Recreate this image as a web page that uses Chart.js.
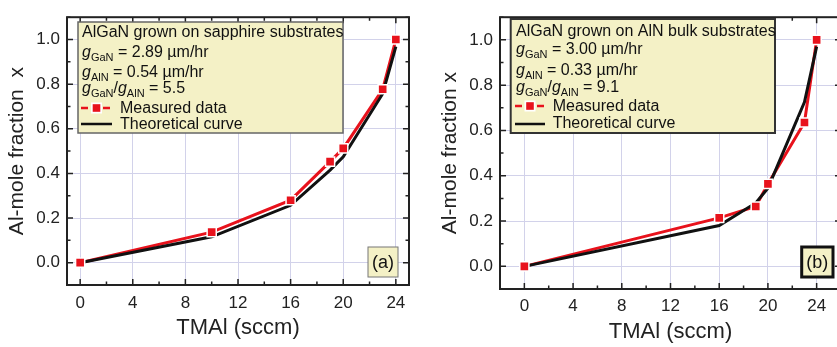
<!DOCTYPE html>
<html>
<head>
    <meta charset="utf-8" />
    <title>Al-mole fraction vs TMAl</title>
    <script src="https://cdn.jsdelivr.net/npm/chart.js"></script>
    <style>
        body { margin: 0; overflow: hidden; background: #fff; width: 837px; height: 347px; position: relative; }
        canvas { position: absolute; top: 0; }
    </style>
</head>
<body>
    <canvas id="chartA" width="420" height="347" style="left:0px"></canvas>
    <canvas id="chartB" width="430" height="347" style="left:420px"></canvas>

    <script>
        // values
        const tmalA = [0, 10, 16, 19, 20, 23, 24];
        const measuredA = [0, 0.137, 0.28, 0.453, 0.512, 0.777, 1.0];
        const theoryA = [0, 0.116, 0.257, 0.415, 0.474, 0.757, 0.968];

        const tmalB = [0, 16, 19, 20, 23, 24];
        const measuredB = [0, 0.214, 0.264, 0.364, 0.635, 1.0];
        const theoryB = [0, 0.18, 0.28, 0.345, 0.725, 0.97];

        const xTicks = [0, 4, 8, 12, 16, 20, 24];
        const yTicks = [0, 0.2, 0.4, 0.6, 0.8, 1.0];

        const RED = '#e8121c';
        const BOXFILL = '#f4f1c6';
        const FONT = '"Liberation Sans", Arial, sans-serif';

        Chart.defaults.font.family = FONT;
        Chart.defaults.color = '#222';

        function pts(xs, ys) {
            return xs.map((x, i) => ({ x: x, y: ys[i] }));
        }

        // text with italic / subscript pieces
        function drawRich(ctx, parts, x, y) {
            for (const p of parts) {
                const size = p.sub ? 11 : 16;
                ctx.font = (p.it ? 'italic ' : '') + size + 'px ' + FONT;
                ctx.fillText(p.t, x, y + (p.sub ? 4 : 0));
                x += ctx.measureText(p.t).width;
            }
        }

        const decor = {
            id: 'decor',
            afterDatasetsDraw(chart, args, o) {
                const ctx = chart.ctx;
                const a = chart.chartArea;
                const sx = chart.scales.x, sy = chart.scales.y;
                ctx.save();

                // ticks pointing inward, all four sides
                ctx.strokeStyle = '#222';
                ctx.lineWidth = 1.5;
                ctx.beginPath();
                for (let v = Math.ceil(sx.min / 2) * 2; v <= sx.max; v += 2) {
                    const px = sx.getPixelForValue(v);
                    const len = (v % 4 === 0) ? 6 : 3.5;
                    ctx.moveTo(px, a.bottom); ctx.lineTo(px, a.bottom - len);
                    ctx.moveTo(px, a.top); ctx.lineTo(px, a.top + len);
                }
                for (let k = Math.ceil(sy.min * 10); k <= Math.floor(sy.max * 10); k++) {
                    const py = sy.getPixelForValue(k / 10);
                    const len = (k % 2 === 0) ? 6 : 3.5;
                    ctx.moveTo(a.left, py); ctx.lineTo(a.left + len, py);
                    ctx.moveTo(a.right, py); ctx.lineTo(a.right - len, py);
                }
                ctx.stroke();

                ctx.lineWidth = 2;
                ctx.strokeRect(a.left, a.top, a.right - a.left, a.bottom - a.top);

                // info box
                const b = o.box;
                ctx.fillStyle = BOXFILL;
                ctx.fillRect(b.x, b.y, b.w, b.h);
                ctx.strokeStyle = b.stroke;
                ctx.lineWidth = b.lw;
                ctx.strokeRect(b.x, b.y, b.w, b.h);

                ctx.fillStyle = '#111';
                ctx.textAlign = 'left';
                ctx.textBaseline = 'alphabetic';
                o.lines.forEach((ln, i) => drawRich(ctx, ln, o.tx, o.base[i]));

                // legend entries
                const L = o.legend;
                ctx.strokeStyle = RED;
                ctx.lineWidth = 2.5;
                ctx.setLineDash([7, 4]);
                ctx.beginPath();
                ctx.moveTo(L.x0, L.yRed); ctx.lineTo(L.x1, L.yRed);
                ctx.stroke();
                ctx.setLineDash([]);
                const mx = (L.x0 + L.x1) / 2;
                ctx.fillStyle = '#fff';
                ctx.fillRect(mx - 5.5, L.yRed - 5.5, 11, 11);
                ctx.fillStyle = RED;
                ctx.fillRect(mx - 3.8, L.yRed - 3.8, 7.6, 7.6);
                ctx.strokeStyle = '#111';
                ctx.lineWidth = 2.5;
                ctx.beginPath();
                ctx.moveTo(L.x0, L.yBlack); ctx.lineTo(L.x1, L.yBlack);
                ctx.stroke();
                ctx.fillStyle = '#111';
                drawRich(ctx, [{ t: 'Measured data' }], L.tx, L.bRed);
                drawRich(ctx, [{ t: 'Theoretical curve' }], L.tx, L.bBlack);

                // panel tag
                const t = o.tag;
                ctx.fillStyle = BOXFILL;
                ctx.fillRect(t.x, t.y, t.w, t.h);
                ctx.strokeStyle = t.stroke;
                ctx.lineWidth = t.lw;
                ctx.strokeRect(t.x, t.y, t.w, t.h);
                ctx.fillStyle = '#111';
                ctx.font = '18px ' + FONT;
                ctx.textAlign = 'center';
                ctx.textBaseline = 'middle';
                ctx.fillText(t.text, t.x + t.w / 2, t.y + t.h / 2 + 1);

                ctx.restore();
            }
        };

        function makeChart(id, xs, meas, theo, s) {
            return new Chart(document.getElementById(id), {
                type: 'scatter',
                data: {
                    datasets: [
                        { data: pts(xs, meas), showLine: true, borderColor: RED, borderWidth: 3, pointRadius: 0, order: 4 },
                        { data: pts(xs, theo), showLine: true, borderColor: '#111', borderWidth: 3, pointRadius: 0, order: 3 },
                        { data: pts(xs, meas), pointStyle: 'rect', pointRadius: 7.5, backgroundColor: '#fff', pointBorderWidth: 0, order: 2 },
                        { data: pts(xs, meas), pointStyle: 'rect', pointRadius: 5.4, backgroundColor: RED, pointBorderWidth: 0, order: 1 }
                    ]
                },
                options: {
                    responsive: false,
                    animation: false,
                    layout: { padding: s.pad },
                    plugins: { legend: { display: false }, tooltip: { enabled: false }, decor: s.decor },
                    scales: {
                        x: {
                            type: 'linear', min: s.xmin, max: s.xmax,
                            afterBuildTicks: sc => { sc.ticks = xTicks.map(v => ({ value: v })); },
                            afterFit: sc => { sc.height = s.xh; },
                            ticks: { font: { size: 17 }, padding: s.xtp, maxRotation: 0 },
                            grid: { color: '#d2d2ea', lineWidth: 1, drawTicks: false },
                            border: { display: false },
                            title: { display: true, text: 'TMAl (sccm)', font: { size: 22 }, color: '#222', padding: { bottom: s.xtb, top: 0 } }
                        },
                        y: {
                            type: 'linear', min: -0.1, max: 1.1,
                            afterBuildTicks: sc => { sc.ticks = yTicks.map(v => ({ value: v })); },
                            afterFit: sc => { sc.width = s.yw; },
                            ticks: { font: { size: 17 }, padding: 7, callback: v => v.toFixed(1) },
                            grid: { color: '#d2d2ea', lineWidth: 1, drawTicks: false },
                            border: { display: false },
                            title: { display: true, text: s.ytitle, font: { size: 21 }, color: '#222', padding: { top: s.ytp, bottom: 0 } }
                        }
                    }
                },
                plugins: [decor]
            });
        }

        makeChart('chartA', tmalA, measuredA, theoryA, {
            xmin: -1, xmax: 25, xh: 62, yw: 67, xtp: 8, xtb: 6, ytp: 5,
            pad: { left: 0, top: 8, right: 11, bottom: 0 },
            ytitle: 'Al-mole fraction  x',
            decor: {
                box: { x: 78, y: 22, w: 265, h: 111, stroke: '#666', lw: 1.5 },
                tx: 82,
                base: [36.5, 56.5, 76.5, 93],
                lines: [
                    [{ t: 'AlGaN grown on sapphire substrates' }],
                    [{ t: 'g', it: true }, { t: 'GaN', sub: true }, { t: ' = 2.89 \u00b5m/hr' }],
                    [{ t: 'g', it: true }, { t: 'AlN', sub: true }, { t: ' = 0.54 \u00b5m/hr' }],
                    [{ t: 'g', it: true }, { t: 'GaN', sub: true }, { t: '/' }, { t: 'g', it: true }, { t: 'AlN', sub: true }, { t: ' = 5.5' }]
                ],
                legend: { x0: 81, x1: 112, yRed: 108, yBlack: 124, tx: 120, bRed: 112.5, bBlack: 128.5 },
                tag: { x: 368, y: 247, w: 30, h: 30, stroke: '#777', lw: 1, text: '(a)' }
            }
        });

        makeChart('chartB', tmalB, measuredB, theoryB, {
            xmin: -2, xmax: 26, xh: 58, yw: 80, xtp: 7, xtb: 2, ytp: 18,
            pad: { left: 0, top: 8, right: 9, bottom: 0 },
            ytitle: 'Al-mole fraction x',
            decor: {
                box: { x: 90.7, y: 19, w: 264.3, h: 114, stroke: '#333', lw: 2 },
                tx: 96,
                base: [36, 53.5, 75, 91.5],
                lines: [
                    [{ t: 'AlGaN grown on AlN bulk substrates' }],
                    [{ t: 'g', it: true }, { t: 'GaN', sub: true }, { t: ' = 3.00 \u00b5m/hr' }],
                    [{ t: 'g', it: true }, { t: 'AlN', sub: true }, { t: ' = 0.33 \u00b5m/hr' }],
                    [{ t: 'g', it: true }, { t: 'GaN', sub: true }, { t: '/' }, { t: 'g', it: true }, { t: 'AlN', sub: true }, { t: ' = 9.1' }]
                ],
                legend: { x0: 95, x1: 125, yRed: 106, yBlack: 124, tx: 132.7, bRed: 111, bBlack: 128 },
                tag: { x: 381.7, y: 247, w: 31.3, h: 30, stroke: '#111', lw: 3, text: '(b)' }
            }
        });
    </script>
</body>
</html>
